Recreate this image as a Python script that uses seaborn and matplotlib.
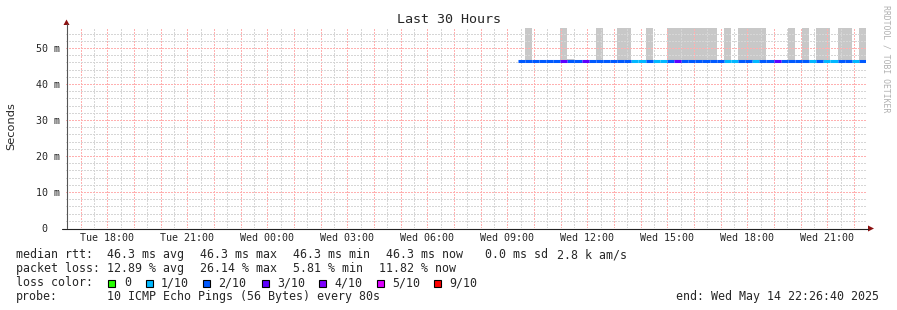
import numpy as np
import pandas as pd
import matplotlib
matplotlib.use("Agg")
import matplotlib.pyplot as plt
import seaborn as sns
from matplotlib.patches import Polygon, Rectangle
from matplotlib.lines import Line2D

# ---------------- data ----------------
title = "Last 30 Hours"
y_label = "Seconds"
end_time = pd.Timestamp("2025-05-14 22:26:40")
span_hours = 30
step_minutes = 16
median_rtt_ms = 46.3

# loss per step in tenths (1 = 1/10, 2 = 2/10, 3 = 3/10)
loss_tenths = [2, 2, 2, 2, 2, 2, 3, 2, 2, 3, 2, 2, 2, 2, 2, 2, 1, 1, 2, 1, 1, 2, 3, 2, 2,
               2, 2, 2, 2, 1, 1, 2, 2, 1, 2, 2, 3, 2, 2, 2, 2, 1, 2, 1, 1, 2, 2, 1, 2]
F = 55.6
smoke_top_ms = [np.nan, F, np.nan, np.nan, np.nan, np.nan, F, 47.0, np.nan, np.nan,
                46.8, F, np.nan, np.nan, F, F, np.nan, np.nan, F, np.nan,
                np.nan, F, F, F, F, F, F, F, np.nan, F,
                np.nan, F, F, F, F, np.nan, np.nan, np.nan, F, np.nan,
                F, np.nan, F, F, np.nan, F, F, np.nan, F]

y_ticks_ms = [0, 10, 20, 30, 40, 50]
y_tick_labels = ["0  ", "10 m", "20 m", "30 m", "40 m", "50 m"]

loss_labels = ["0", "1/10", "2/10", "3/10", "4/10", "5/10", "9/10"]
loss_colors = ["#26ff00", "#00b8ff", "#0059ff", "#5e00ff", "#7e00ff", "#dd00ff", "#ff0000"]
loss_levels = [0, 1, 2, 3, 4, 5, 9]

rtt_stats = [46.3, 46.3, 46.3, 46.3]   # avg, max, min, now
rtt_sd = 0.0
rtt_am = 2.8
loss_stats = [12.89, 26.14, 5.81, 11.82]  # avg, max, min, now
probe_text = "10 ICMP Echo Pings (56 Bytes) every 80s"

# ---------------- layout ----------------
W, H = 897, 310
DPI = 100
MONO = "DejaVu Sans Mono"

sns.set_theme(style="white")
plt.rcParams["font.family"] = ["DejaVu Sans"]

fig = plt.figure(figsize=(W / DPI, H / DPI), dpi=DPI, facecolor="white")
ax_l, ax_r, ax_t, ax_b = 66, 866, 28, 228
ax = fig.add_axes([ax_l / W, 1 - ax_b / H, (ax_r - ax_l) / W, (ax_b - ax_t) / H])
ax.set_facecolor("white")

start_time = end_time - pd.Timedelta(hours=span_hours)
n = len(loss_tenths)
step_h = step_minutes / 60.0
step_starts = [end_time - pd.Timedelta(minutes=step_minutes * (n - i)) for i in range(n)]
t0 = [(s - start_time).total_seconds() / 3600.0 for s in step_starts]

# smoke
smk = pd.DataFrame({"t": t0, "top": smoke_top_ms}).dropna()
ax.bar(smk["t"], smk["top"] - median_rtt_ms, bottom=median_rtt_ms, width=step_h,
       align="edge", color="#c8c8c8", linewidth=0, zorder=1)

# median line coloured by loss
rows = []
for i in range(n):
    rows.append({"t": t0[i], "rtt": median_rtt_ms, "loss": loss_tenths[i], "seg": i})
    rows.append({"t": t0[i] + step_h, "rtt": median_rtt_ms, "loss": loss_tenths[i], "seg": i})
df = pd.DataFrame(rows)
palette = {lv: c for lv, c in zip(loss_levels, loss_colors)}
sns.lineplot(data=df, x="t", y="rtt", hue="loss", units="seg", estimator=None,
             palette=palette, linewidth=2.2, legend=False, ax=ax, sort=False,
             solid_capstyle="butt", zorder=3)

ax.set_xlim(0, span_hours)
ax.set_ylim(0, (ax_b - ax_t) / 3.6)

# x grid/ticks
first_hour = start_time.ceil("h")
hours = pd.date_range(first_hour, end_time, freq="h")
half = pd.date_range(start_time.ceil("30min"), end_time, freq="30min")
hx = [(h - start_time).total_seconds() / 3600 for h in hours]
mx = [(h - start_time).total_seconds() / 3600 for h in half]
ax.set_xticks(hx)
ax.set_xticks(mx, minor=True)
ax.set_xticklabels([h.strftime("%a %H:%M") if h.hour % 3 == 0 else "" for h in hours],
                   fontfamily=MONO, fontsize=7.2)
ax.set_yticks(y_ticks_ms)
ax.set_yticks(np.arange(0, 56, 2), minor=True)
ax.set_yticklabels(y_tick_labels, fontfamily=MONO, fontsize=7.2)
ax.tick_params(axis="both", which="both", length=0)
ax.tick_params(axis="x", pad=3.9)
ax.tick_params(axis="y", pad=4.0)
ax.set_xlabel("")
ax.set_ylabel("")
ax.set_axisbelow(False)
ax.grid(which="minor", color="#d6d6d6", linestyle=(0, (1.39, 1.39)), linewidth=0.72,
        antialiased=False)
ax.grid(which="major", color="#ffb0b0", linestyle=(0, (1.39, 1.39)), linewidth=0.72,
        antialiased=False)
for s in ax.spines.values():
    s.set_visible(False)


def fx(x):
    return x / W


def fy(y):
    return 1 - y / H


# axis lines + arrows
fig.add_artist(Line2D([fx(66.5), fx(66.5)], [fy(228), fy(24)], color="#555555", lw=0.8))
fig.add_artist(Line2D([fx(62), fx(868)], [fy(228.5), fy(228.5)], color="#222222", lw=0.8))
fig.add_artist(Polygon([[fx(63.5), fy(25)], [fx(69.5), fy(25)], [fx(66.5), fy(19.5)]],
                       closed=True, color="#8b1010", lw=0))
fig.add_artist(Polygon([[fx(868), fy(225.5)], [fx(868), fy(231.5)], [fx(874), fy(228.5)]],
                       closed=True, color="#8b1010", lw=0))

# title, labels, watermark
fig.text(0.5, fy(19.5), title, ha="center", va="center", fontfamily=MONO, fontsize=9.6)
fig.text(fx(11), fy(126), y_label, rotation=90, ha="center", va="center",
         fontfamily="DejaVu Sans", fontsize=8.2)
fig.text(fx(886), fy(5), "RRDTOOL / TOBI OETIKER", rotation=270, ha="center", va="top",
         fontfamily=MONO, fontsize=5.9, color="#b0b0b0")

# legend text (rrdtool places each GPRINT element separately)
LFS = 8.37


def leg(x, y, s, **kw):
    fig.text(fx(x), fy(y), s, ha=kw.pop("ha", "left"), va="center", fontfamily=MONO,
             fontsize=LFS, **kw)


y1, y2, y3, y4 = 254.5, 268.5, 282.5, 296.5
leg(16, y1, "median rtt:")
for x, v, w in zip([107, 200, 293, 386], rtt_stats, ["avg", "max", "min", "now"]):
    leg(x, y1, "%.1f ms %s" % (v, w))
leg(485, y1, "%.1f ms sd" % rtt_sd)
leg(557, y1, "%.1f k am/s" % rtt_am)

leg(16, y2, "packet loss:")
for x, v, w in zip([107, 200, 293, 379], loss_stats, ["avg", "max", "min", "now"]):
    leg(x, y2, "%.2f %% %s" % (v, w))

leg(16, y3, "loss color:")
sq_x = [108, 146, 203, 262, 319, 377, 434]
lab_x = [124, 161, 218, 277, 334, 392, 449]
for c, lab, sx, lx in zip(loss_colors, loss_labels, sq_x, lab_x):
    fig.add_artist(Rectangle((fx(sx), fy(286.5)), 7 / W, 7 / H, transform=fig.transFigure,
                             facecolor=c, edgecolor="black", lw=0.8))
    leg(lx, y3, lab)

leg(16, y4, "probe:")
leg(107, y4, probe_text)
leg(879, y4, "end: " + end_time.strftime("%a %b %d %H:%M:%S %Y"), ha="right")

fig.savefig("out.png", dpi=DPI, facecolor="white")
